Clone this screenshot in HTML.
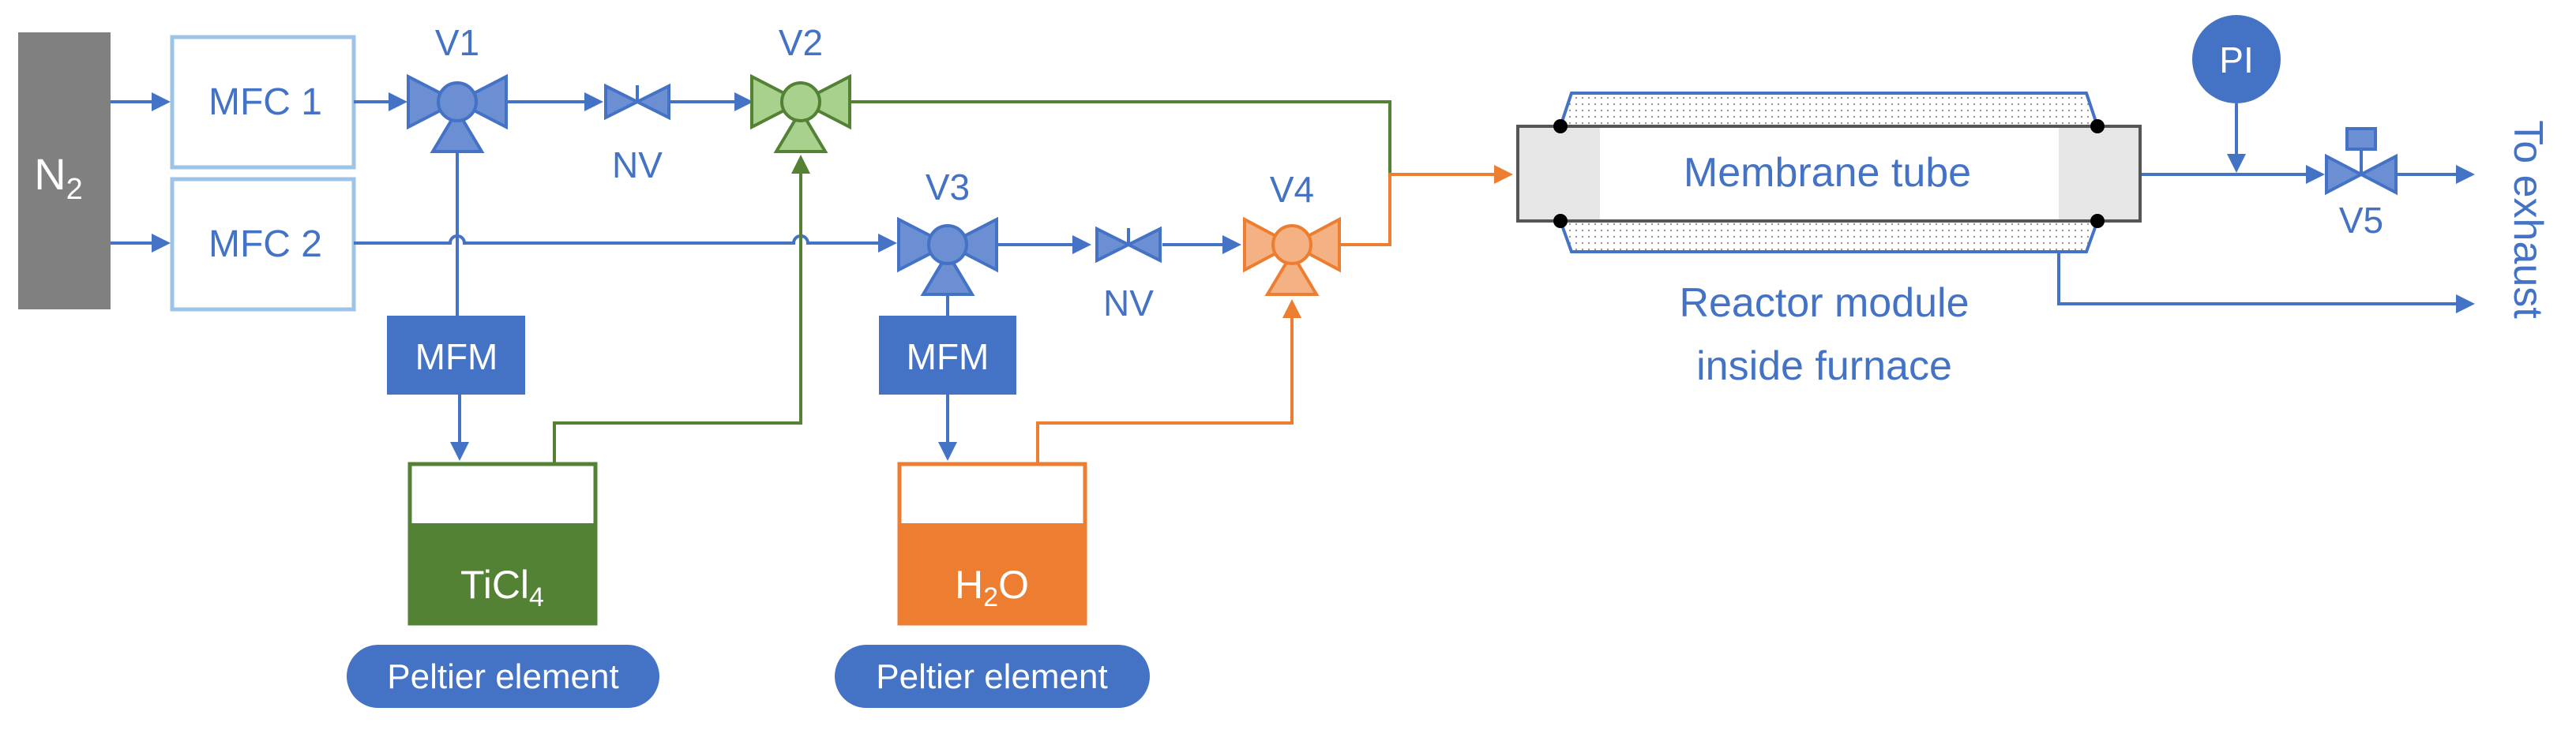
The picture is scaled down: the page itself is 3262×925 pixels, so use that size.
<!DOCTYPE html>
<html><head><meta charset="utf-8"><style>
html,body{margin:0;padding:0;background:#fff}
svg{display:block}
text{font-family:"Liberation Sans",sans-serif}
</style></head><body>
<svg width="3262" height="925" viewBox="0 0 3262 925" xmlns="http://www.w3.org/2000/svg">
<defs>
<marker id="ab" markerWidth="6" markerHeight="6" refX="5" refY="3" orient="auto" markerUnits="strokeWidth"><path d="M0,0 L6,3 L0,6 Z" fill="#4472C4"/></marker>
<marker id="ag" markerWidth="6" markerHeight="6" refX="5" refY="3" orient="auto" markerUnits="strokeWidth"><path d="M0,0 L6,3 L0,6 Z" fill="#548235"/></marker>
<marker id="ao" markerWidth="6" markerHeight="6" refX="5" refY="3" orient="auto" markerUnits="strokeWidth"><path d="M0,0 L6,3 L0,6 Z" fill="#ED7D31"/></marker>
<pattern id="dots" width="8" height="8" patternUnits="userSpaceOnUse"><rect width="8" height="8" fill="#fff"/><circle cx="4" cy="4" r="1.2" fill="#9a9a9a"/></pattern>
</defs>
<g fill="none" stroke-width="4">
<!-- N2 -->
<rect x="23" y="41" width="117" height="351" fill="#808080" stroke="none"/>
<text x="74" y="240" font-size="56" fill="#fff" stroke="none" text-anchor="middle">N<tspan font-size="38" dy="12">2</tspan></text>
<!-- MFC -->
<rect x="218" y="47" width="230" height="165" stroke="#9DC3E6" stroke-width="5" fill="#fff"/>
<rect x="218" y="227" width="230" height="165" stroke="#9DC3E6" stroke-width="5" fill="#fff"/>
<text x="336" y="145" font-size="48" fill="#4472C4" stroke="none" text-anchor="middle">MFC 1</text>
<text x="336" y="325" font-size="48" fill="#4472C4" stroke="none" text-anchor="middle">MFC 2</text>
<!-- blue lines -->
<g stroke="#4472C4">
<line x1="140" y1="129" x2="212" y2="129" marker-end="url(#ab)"/>
<line x1="140" y1="308" x2="212" y2="308" marker-end="url(#ab)"/>
<line x1="448" y1="129" x2="512" y2="129" marker-end="url(#ab)"/>
<line x1="639" y1="129" x2="760" y2="129" marker-end="url(#ab)"/>
<line x1="849" y1="129" x2="950" y2="129" marker-end="url(#ab)"/>
<path d="M448,308 H570 a9,9 0 0 1 18,0 H1005 a9,9 0 0 1 18,0 H1132" marker-end="url(#ab)"/>
<line x1="579" y1="190" x2="579" y2="400"/>
<line x1="582" y1="500" x2="582" y2="580" marker-end="url(#ab)"/>
<line x1="1262" y1="310" x2="1378" y2="310" marker-end="url(#ab)"/>
<line x1="1472" y1="310" x2="1568" y2="310" marker-end="url(#ab)"/>
<line x1="1200" y1="372" x2="1200" y2="400"/>
<line x1="1200" y1="500" x2="1200" y2="580" marker-end="url(#ab)"/>
<line x1="2710" y1="221" x2="2940" y2="221" marker-end="url(#ab)"/>
<line x1="2832" y1="131" x2="2832" y2="215" marker-end="url(#ab)"/>
<line x1="3035" y1="221" x2="3130" y2="221" marker-end="url(#ab)"/>
<path d="M2607,319 V385 H3130" marker-end="url(#ab)"/>
</g>
<!-- green -->
<g stroke="#548235">
<path d="M1075,129 H1760 V221"/>
<path d="M702,586 V536 H1014 V200" marker-end="url(#ag)"/>
</g>
<!-- orange -->
<g stroke="#ED7D31">
<path d="M1695,310 H1760 V221 H1912" marker-end="url(#ao)"/>
<path d="M1314,586 V536 H1636 V383" marker-end="url(#ao)"/>
</g>
<!-- valves -->
<g id="v1" stroke="#4472C4" fill="#6C8FD3">
<path d="M517,97 L517,161 L579,129 Z M641,97 L641,161 L579,129 Z"/>
<path d="M579,140 L548,192 L610,192 Z"/>
<circle cx="579" cy="129" r="24"/>
</g>
<g stroke="#548235" fill="#A9D18E">
<path d="M952,97 L952,161 L1014,129 Z M1076,97 L1076,161 L1014,129 Z"/>
<path d="M1014,140 L983,192 L1045,192 Z"/>
<circle cx="1014" cy="129" r="24"/>
</g>
<g stroke="#4472C4" fill="#6C8FD3">
<path d="M1138,278 L1138,342 L1200,310 Z M1262,278 L1262,342 L1200,310 Z"/>
<path d="M1200,321 L1169,373 L1231,373 Z"/>
<circle cx="1200" cy="310" r="24"/>
</g>
<g stroke="#ED7D31" fill="#F4B183">
<path d="M1576,278 L1576,342 L1636,310 Z M1696,278 L1696,342 L1636,310 Z"/>
<path d="M1636,321 L1605,373 L1667,373 Z"/>
<circle cx="1636" cy="310" r="24"/>
</g>
<!-- needle valves -->
<g stroke="#4472C4" fill="#6C8FD3">
<path d="M767,109 L767,149 L807,129 Z M847,109 L847,149 L807,129 Z"/>
<line x1="807" y1="108" x2="807" y2="128"/>
<path d="M1389,290 L1389,330 L1429,310 Z M1469,290 L1469,330 L1429,310 Z"/>
<line x1="1429" y1="289" x2="1429" y2="309"/>
<path d="M2946,198 L2946,244 L2990,221 Z M3034,198 L3034,244 L2990,221 Z"/>
<line x1="2990" y1="189" x2="2990" y2="221"/>
<rect x="2972" y="163" width="36" height="26"/>
</g>
<!-- labels -->
<g fill="#4472C4" stroke="none" font-size="46" text-anchor="middle">
<text x="579" y="70">V1</text>
<text x="1014" y="70">V2</text>
<text x="807" y="225">NV</text>
<text x="1200" y="253">V3</text>
<text x="1636" y="256">V4</text>
<text x="1429" y="400">NV</text>
<text x="2990" y="295">V5</text>
</g>
<!-- MFM -->
<rect x="490" y="400" width="175" height="100" fill="#4472C4" stroke="none"/>
<rect x="1113" y="400" width="174" height="100" fill="#4472C4" stroke="none"/>
<text x="578" y="468" font-size="46" fill="#fff" stroke="none" text-anchor="middle">MFM</text>
<text x="1200" y="468" font-size="46" fill="#fff" stroke="none" text-anchor="middle">MFM</text>
<!-- reservoirs -->
<rect x="519" y="588" width="235" height="202" fill="#fff" stroke="#548235" stroke-width="5"/>
<rect x="519" y="663" width="235" height="127" fill="#548235" stroke="none"/>
<text x="636" y="758" font-size="50" fill="#fff" stroke="none" text-anchor="middle">TiCl<tspan font-size="34" dy="10">4</tspan></text>
<rect x="1139" y="588" width="235" height="202" fill="#fff" stroke="#ED7D31" stroke-width="5"/>
<rect x="1139" y="663" width="235" height="127" fill="#ED7D31" stroke="none"/>
<text x="1256" y="758" font-size="50" fill="#fff" stroke="none" text-anchor="middle">H<tspan font-size="34" dy="10">2</tspan><tspan dy="-10">O</tspan></text>
<!-- Peltier -->
<rect x="439" y="817" width="396" height="80" rx="40" fill="#4472C4" stroke="none"/>
<rect x="1057" y="817" width="399" height="80" rx="40" fill="#4472C4" stroke="none"/>
<text x="637" y="872" font-size="44" fill="#fff" stroke="none" text-anchor="middle">Peltier element</text>
<text x="1256" y="872" font-size="44" fill="#fff" stroke="none" text-anchor="middle">Peltier element</text>
<!-- reactor -->
<path d="M1976,160 L1990,118 H2642 L2656,160 Z" fill="url(#dots)" stroke="#4472C4" stroke-width="4"/>
<path d="M1976,280 L1990,319 H2642 L2656,280 Z" fill="url(#dots)" stroke="#4472C4" stroke-width="4"/>
<rect x="1922" y="160" width="788" height="120" fill="#E7E6E6" stroke="#555" stroke-width="4"/>
<rect x="2026" y="162" width="581" height="116" fill="#fff" stroke="none"/>
<g fill="#000" stroke="none">
<circle cx="1976" cy="160" r="9"/><circle cx="2656" cy="160" r="9"/>
<circle cx="1976" cy="280" r="9"/><circle cx="2656" cy="280" r="9"/>
</g>
<text x="2314" y="236" font-size="52" fill="#4472C4" stroke="none" text-anchor="middle">Membrane tube</text>
<text x="2310" y="401" font-size="52" fill="#4472C4" stroke="none" text-anchor="middle">Reactor module</text>
<text x="2310" y="481" font-size="52" fill="#4472C4" stroke="none" text-anchor="middle">inside furnace</text>
<!-- PI -->
<ellipse cx="2832" cy="75" rx="56" ry="56" fill="#4472C4" stroke="none"/>
<text x="2832" y="92" font-size="46" fill="#fff" stroke="none" text-anchor="middle">PI</text>
<!-- To exhaust -->
<text transform="translate(3184,278) rotate(90)" font-size="52" fill="#4472C4" stroke="none" text-anchor="middle">To exhaust</text>
</g>
</svg>
</body></html>
